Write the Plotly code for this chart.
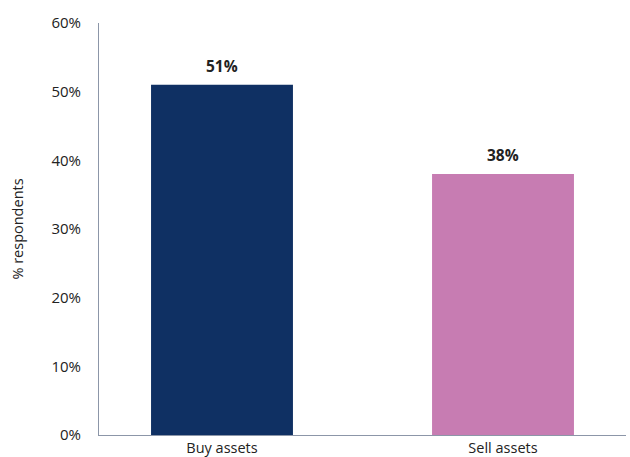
import plotly.graph_objects as go

# Survey results: share of respondents planning each action
categories = ["Buy assets", "Sell assets"]
values = [51, 38]
bar_colors = ["#0f3063", "#c77cb2"]
y_ticks = [0, 10, 20, 30, 40, 50, 60]
y_tick_labels = [f"{v}%" for v in y_ticks]

font_family = "Open Sans, Noto Sans, sans-serif"

fig = go.Figure(
    go.Bar(
        x=categories,
        y=values,
        marker=dict(color=bar_colors, line=dict(width=0)),
        width=0.505,
        hoverinfo="x+y",
    )
)

# Bold value labels sitting just above each bar
for cat, val in zip(categories, values):
    fig.add_annotation(
        x=cat,
        y=val,
        text=f"<b>{val}%</b>",
        showarrow=False,
        yanchor="bottom",
        yshift=6,
        font=dict(family=font_family, size=15.5, color="#222222"),
    )

fig.update_layout(
    width=630,
    height=457,
    margin=dict(l=99, r=4, t=23, b=22),
    paper_bgcolor="white",
    plot_bgcolor="white",
    showlegend=False,
    font=dict(family=font_family, size=14, color="#222222"),
)

fig.update_xaxes(
    type="category",
    range=[-0.4377, 1.4377],
    automargin=False,
    showline=True,
    linecolor="#8c96a8",
    linewidth=1,
    showgrid=False,
    ticks="",
    tickfont=dict(size=14.5),
    ticklabelstandoff=0,
)

fig.update_yaxes(
    range=[0, 60],
    automargin=False,
    tickvals=y_ticks,
    ticktext=y_tick_labels,
    showline=True,
    linecolor="#8c96a8",
    linewidth=1,
    showgrid=False,
    zeroline=False,
    ticks="",
    tickfont=dict(size=15),
    ticklabelstandoff=14,
    title=dict(text="% respondents", font=dict(size=14.5), standoff=24),
)

fig.write_html("out.html")
